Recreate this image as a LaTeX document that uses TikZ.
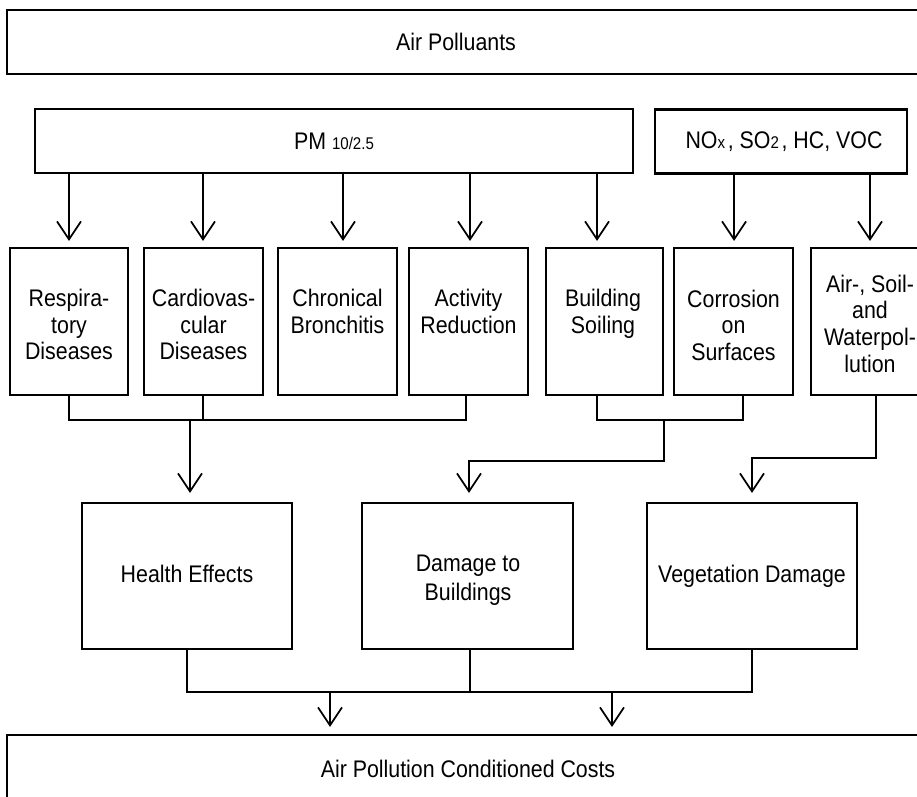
\documentclass[tikz,border=0pt]{standalone}
\usepackage{fontspec}
\setmainfont{Liberation Sans}[FakeStretch=0.89]
\usetikzlibrary{arrows.meta}
\newcommand{\smtxt}[1]{{\fontsize{12.7}{14}\selectfont #1}}
\tikzset{
  box/.style={draw=black, line width=1.6pt, fill=none, inner sep=0pt},
  lbl/.style={align=center, inner sep=0pt, font=\fontsize{18}{20}\selectfont},
  conn/.style={draw=black, line width=1.4pt},
  arr/.style={conn, -{Straight Barb[length=13.5pt,width=18pt,line width=1.3pt]}},
}
\begin{document}
\begin{tikzpicture}[x=0.75pt,y=-0.75pt]
\useasboundingbox (0,0) rectangle (917,796);
\clip (0,0) rectangle (917,796);
\fill[white] (0,0) rectangle (917,796);

% top
\node[box, minimum width=692.25pt, minimum height=48pt] (top) at (468.5,42) {};
\node[lbl] (toplbl) at (456,42) {Air Polluants};

% sources
\node[box, minimum width=448.5pt, minimum height=48pt] (pm) at (334,141) {};
\node[lbl] (pmlbl) at (334,141) {PM \smtxt{10/2.5}};
\node[box, minimum width=189pt, minimum height=48pt] (nox) at (781,141.5) {};
\node[lbl] (noxlbl) at (784,141.5) {NO\smtxt{x}\hspace{2pt}, SO\smtxt{2}\hspace{2pt}, HC, VOC};

% small boxes
\node[box, minimum width=88.5pt, minimum height=110.25pt] (resp) at (69,321.5) {};
\node[box, minimum width=89.25pt, minimum height=110.25pt] (cardio) at (203.5,321.5) {};
\node[box, minimum width=89.25pt, minimum height=110.25pt] (chron) at (337.5,321.5) {};
\node[box, minimum width=89.25pt, minimum height=110.25pt] (activ) at (468.5,321.5) {};
\node[box, minimum width=87.75pt, minimum height=110.25pt] (bsoil) at (604.5,321.5) {};
\node[box, minimum width=89.25pt, minimum height=110.25pt] (corr) at (733.5,321.5) {};
\node[box, minimum width=88.5pt, minimum height=110.25pt] (air) at (870,321.5) {};

\node[lbl] (resplbl) at (69,324.7) {Respira-\\tory\\Diseases};
\node[lbl] (cardiolbl) at (203.5,324.7) {Cardiovas-\\cular\\Diseases};
\node[lbl] (chronlbl) at (337.5,311.3) {Chronical\\Bronchitis};
\node[lbl] (activlbl) at (468.5,311.3) {Activity\\Reduction};
\node[lbl] (bsoillbl) at (603,314) {Building\\Soiling};
\node[lbl] (corrlbl) at (733.5,325.2) {Corrosion\\on\\Surfaces};
\node[lbl] (airlbl) at (870,323.5) {Air-, Soil-\\and\\Waterpol-\\lution};

% middle boxes
\node[box, minimum width=157.5pt, minimum height=109.5pt] (health) at (187,576) {};
\node[box, minimum width=158.25pt, minimum height=109.5pt] (damage) at (467.5,576) {};
\node[box, minimum width=157.5pt, minimum height=109.5pt] (veg) at (752,576) {};
\node[lbl] (healthlbl) at (187,574) {Health Effects};
\node[lbl, font=\fontsize{18}{22}\selectfont] (damagelbl) at (468,580) {Damage to\\Buildings};
\node[lbl] (veglbl) at (752,576) {Vegetation Damage};

% bottom
\node[box, minimum width=692.25pt, minimum height=71.25pt] (cost) at (468.5,782.5) {};
\node[lbl] (costlbl) at (468,769) {Air Pollution Conditioned Costs};

% arrows from sources
\draw[arr, shorten >=4.5pt] (resp.north |- pm.south) -- (resp.north);
\draw[arr, shorten >=4.5pt] ([xshift=-0.4pt]cardio.north |- pm.south) -- ([xshift=-0.4pt]cardio.north);
\draw[arr, shorten >=4.5pt] ([xshift=4.1pt]chron.north |- pm.south) -- ([xshift=4.1pt]chron.north);
\draw[arr, shorten >=4.5pt] ([xshift=1.1pt]activ.north |- pm.south) -- ([xshift=1.1pt]activ.north);
\draw[arr, shorten >=4.5pt] ([xshift=-5.6pt]bsoil.north |- pm.south) -- ([xshift=-5.6pt]bsoil.north);
\draw[arr, shorten >=4.5pt] ([xshift=0.4pt]corr.north |- nox.south) -- ([xshift=0.4pt]corr.north);
\draw[arr, shorten >=4.5pt] (air.north |- nox.south) -- (air.north);

% health join
\coordinate (j1) at (190,419);
\draw[conn] (resp.south) -- ++(0,24) -| ([xshift=-1.9pt]activ.south);
\draw[conn] ([xshift=-0.4pt]cardio.south) -- ([xshift=-0.4pt]cardio.south |- j1);
\draw[arr, shorten >=6.75pt] (j1) -- (j1 |- health.north);

% buildings join
\coordinate (j2) at (664,419);
\draw[conn] ([xshift=-5.6pt]bsoil.south) -- ++(0,24) -| ([xshift=7.1pt]corr.south);
\draw[arr, shorten >=6.75pt] (j2) -- (664,461) -| ([xshift=1.1pt]damage.north);

% vegetation
\draw[arr, shorten >=6.75pt] ([xshift=4.5pt]air.south) -- ++(0,62) -| (veg.north);

% bottom join
\coordinate (k1) at (330,691);
\coordinate (k2) at (612,691);
\draw[conn] (health.south) -- ++(0,42) -| (veg.south);
\draw[conn] ([xshift=1.9pt]damage.south) -- ++(0,42);
\draw[arr, shorten >=5.25pt] (k1) -- (k1 |- cost.north);
\draw[arr, shorten >=5.25pt] (k2) -- (k2 |- cost.north);
\end{tikzpicture}
\end{document}
